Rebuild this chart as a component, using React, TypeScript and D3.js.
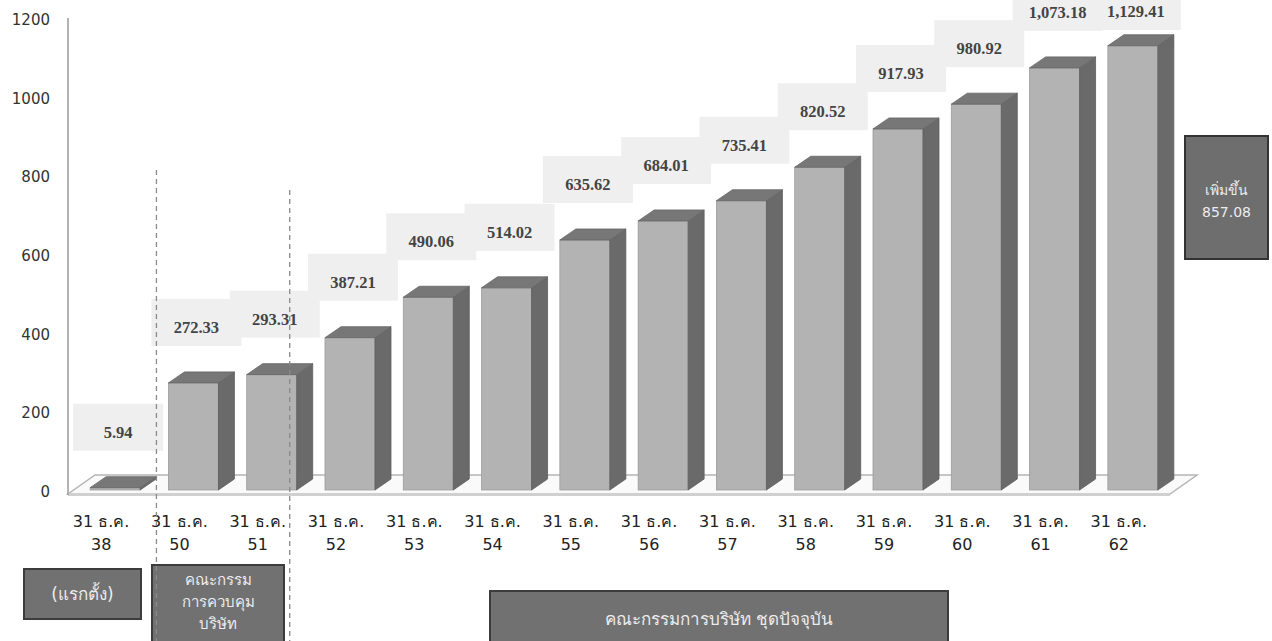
import React from "react";
import * as d3 from "d3";

const categories = ["38", "50", "51", "52", "53", "54", "55", "56", "57", "58", "59", "60", "61", "62"];
const values = [5.94, 272.33, 293.31, 387.21, 490.06, 514.02, 635.62, 684.01, 735.41, 820.52, 917.93, 980.92, 1073.18, 1129.41];
const yTicks = [0, 200, 400, 600, 800, 1000, 1200];
const catPrefix = "31 ธ.ค.";
const groupFirst = ["(แรกตั้ง)"];
const groupControl = ["คณะกรรม", "การควบคุม", "บริษัท"];
const groupCurrent = ["คณะกรรมการบริษัท ชุดปัจจุบัน"];
const increaseLines = ["เพิ่มขึ้น", "857.08"];

const W = 1272;
const H = 641;
const sans = "Tahoma, 'DejaVu Sans', 'Noto Sans', sans-serif";
const serif = "'Liberation Serif', 'Times New Roman', serif";

export default function App() {
  const x = d3.scaleBand<string>().domain(categories).range([62, 1158]).padding(0);
  const y = d3.scaleLinear().domain([0, 1200]).range([490, 18]);
  const step = x.step();
  const cx = (c: string) => (x(c) as number) + step / 2;
  const fmt = d3.format(",.2f");
  const dx = 16, dy = -11, bw = 50, off = 14;

  const floorFront = 494, floorBack = 475;
  const floorPts = [
    [68, floorFront], [1170, floorFront], [1197, floorBack], [95, floorBack],
  ].map(p => p.join(",")).join(" ");

  const dash1 = cx("50") - 23;
  const dash2 = cx("51") + 32;

  return (
    <svg width={W} height={H} style={{ position: "absolute", left: 0, top: 0, background: "#fff" }}>
      {/* floor */}
      <polygon points={floorPts} fill="#fafafa" stroke="#b5b5b5" strokeWidth={1.5} />
      <rect x={68} y={floorFront - 1} width={1102} height={3} fill="#d0d0d0" />
      {/* y axis */}
      <line x1={68} x2={68} y1={y(1200)} y2={floorFront + 1} stroke="#9a9a9a" strokeWidth={1.5} />
      {yTicks.map(t => (
        <text key={t} x={50} y={y(t) + 7} textAnchor="end" fontFamily={sans} fontSize={15} fill="#333">{t}</text>
      ))}
      {/* bars */}
      {categories.map((c, i) => {
        const v = values[i];
        const x0 = cx(c) + off - bw / 2;
        const x1 = x0 + bw;
        const yt = y(v);
        const yb = y(0);
        const side = [[x1, yb], [x1 + dx, yb + dy], [x1 + dx, yt + dy], [x1, yt]].map(p => p.join(",")).join(" ");
        const top = [[x0, yt], [x1, yt], [x1 + dx, yt + dy], [x0 + dx, yt + dy]].map(p => p.join(",")).join(" ");
        return (
          <g key={c}>
            <rect x={x0} y={yt} width={bw} height={Math.max(0, yb - yt)} fill="#b3b3b3" stroke="#9c9c9c" strokeWidth={0.8} />
            <polygon points={side} fill="#6a6a6a" stroke="#5e5e5e" strokeWidth={0.8} />
            <polygon points={top} fill="#777777" stroke="#666" strokeWidth={0.8} />
          </g>
        );
      })}
      {/* value labels */}
      {categories.map((c, i) => {
        const v = values[i];
        const ty = Math.max(y(v) - 50, 17);
        const tx = cx(c) + 17;
        const by = Math.max(ty - 34, 0);
        return (
          <g key={"l" + c}>
            <rect x={cx(c) - 28} y={by} width={90} height={ty + 13 - by} fill="#efefef" />
            <text x={tx} y={ty} textAnchor="middle" fontFamily={serif} fontWeight="bold" fontSize={16.5} fill="#444">{fmt(v)}</text>
          </g>
        );
      })}
      {/* category labels */}
      {categories.map(c => (
        <g key={"c" + c}>
          <text x={cx(c)} y={527} textAnchor="middle" fontFamily={sans} fontSize={16} fill="#222">{catPrefix}</text>
          <text x={cx(c)} y={550} textAnchor="middle" fontFamily={sans} fontSize={16} fill="#222">{c}</text>
        </g>
      ))}
      {/* group boxes */}
      <rect x={24} y={569} width={117} height={50} fill="#717171" stroke="#3c3c3c" strokeWidth={2} />
      {groupFirst.map((t, i) => (
        <text key={t} x={82.5} y={600 + i * 22} textAnchor="middle" fontFamily={sans} fontSize={17} fill="#ececec">{t}</text>
      ))}
      <rect x={152} y={565} width={132} height={90} fill="#717171" stroke="#3c3c3c" strokeWidth={2} />
      {groupControl.map((t, i) => (
        <text key={t} x={218} y={585 + i * 22} textAnchor="middle" fontFamily={sans} fontSize={15} fill="#ececec">{t}</text>
      ))}
      <rect x={490} y={591} width={458} height={60} fill="#717171" stroke="#3c3c3c" strokeWidth={2} />
      {groupCurrent.map(t => (
        <text key={t} x={719} y={625} textAnchor="middle" fontFamily={sans} fontSize={17} fill="#ececec">{t}</text>
      ))}
      <rect x={1185} y={136} width={83} height={123} fill="#6e6e6e" stroke="#333" strokeWidth={2} />
      {increaseLines.map((t, i) => (
        <text key={t} x={1226.5} y={195 + i * 22} textAnchor="middle" fontFamily={sans} fontSize={14} fill="#ececec">{t}</text>
      ))}
      {/* dashed separators */}
      <line x1={dash1} x2={dash1} y1={170} y2={H} stroke="#8a8a8a" strokeWidth={1.3} strokeDasharray="5,4" />
      <line x1={dash2} x2={dash2} y1={190} y2={H} stroke="#8a8a8a" strokeWidth={1.3} strokeDasharray="5,4" />
    </svg>
  );
}
